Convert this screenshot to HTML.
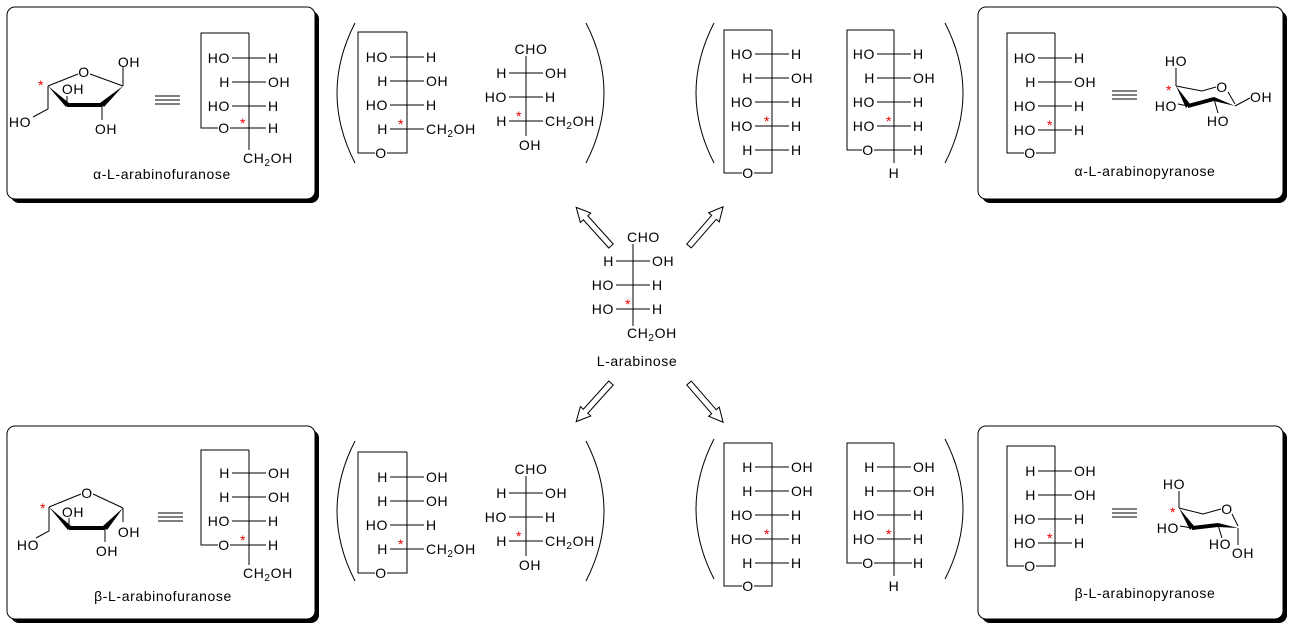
<!DOCTYPE html>
<html><head><meta charset="utf-8"><style>
html,body{margin:0;padding:0;background:#fff;}
svg{display:block;font-family:"Liberation Sans",sans-serif;font-size:14px;}
text{letter-spacing:0.6px;transform:translateY(1px);}
.l{text-anchor:end}.m{text-anchor:middle}
.s{fill:#e00;font-size:14px}
line,path.b{stroke:#000;stroke-width:1;fill:none}
</style></head><body>
<svg width="1292" height="627" viewBox="0 0 1292 627" xmlns="http://www.w3.org/2000/svg">
<!-- boxes -->
<rect x="11" y="11" width="308" height="192" rx="8" fill="#000"/>
<rect x="7" y="7" width="308" height="192" rx="8" fill="#fff" stroke="#000"/>
<rect x="982" y="11" width="305" height="192" rx="8" fill="#000"/>
<rect x="978" y="7" width="305" height="192" rx="8" fill="#fff" stroke="#000"/>
<rect x="11" y="430" width="308" height="193" rx="8" fill="#000"/>
<rect x="7" y="426" width="308" height="193" rx="8" fill="#fff" stroke="#000"/>
<rect x="982" y="430" width="305" height="193" rx="8" fill="#000"/>
<rect x="978" y="426" width="305" height="193" rx="8" fill="#fff" stroke="#000"/>

<!-- parens -->
<path class="b" d="M355,23 Q319,93 355,163 M586,23 Q622,93 586,163 M714,23 Q678,93 714,163 M945,23 Q981,93 945,163"/>
<path class="b" d="M355,441 Q319,511 355,581 M586,441 Q622,511 586,581 M714,439 Q678,509 714,579 M945,439 Q981,509 945,579"/>

<!-- equivalence signs -->
<path class="b" d="M155,96H180M155,100H180M155,104H180 M1112,91H1137M1112,95H1137M1112,99H1137 M158,513H183M158,517H183M158,521H183 M1112,509H1137M1112,513H1137M1112,517H1137"/>

<!-- alpha furanose -->
<line x1="48" y1="86" x2="78" y2="74"/><line x1="90" y1="74" x2="123" y2="86"/>
<polygon points="123,86 104,107 100,103"/><polygon points="67,103 102,103 102,107 67,107"/><polygon points="48,86 69,103 66,107"/>
<line x1="123" y1="86" x2="123" y2="67"/><line x1="102" y1="105" x2="102" y2="120"/><line x1="67" y1="105" x2="67" y2="96"/>
<path class="b" d="M48,86V109L33,117"/>
<text x="84" y="76" class="m">O</text><text x="129" y="66" class="m">OH</text><text x="106" y="133" class="m">OH</text><text x="73" y="93" class="m">OH</text><text x="20" y="126" class="m">HO</text><text x="41" y="89" class="s m">*</text>
<text x="162" y="178" class="m">α-L-arabinofuranose</text>

<!-- Fischer TL box -->
<g transform="translate(249,0)">
<path class="b" d="M0,33H-48V128H-31M-19,128H0M0,33V150"/>
<line x1="-17" y1="58" x2="17" y2="58"/><line x1="-17" y1="82" x2="17" y2="82"/><line x1="-17" y1="106" x2="17" y2="106"/><line x1="0" y1="128" x2="17" y2="128"/>
<text x="-19" y="62" class="l">HO</text><text x="19" y="62">H</text>
<text x="-19" y="86" class="l">H</text><text x="19" y="86">OH</text>
<text x="-19" y="110" class="l">HO</text><text x="19" y="110">H</text>
<text x="-25" y="132" class="m">O</text><text x="19" y="132">H</text><text x="-6" y="127" class="s m">*</text>
<text x="-6" y="162">CH<tspan font-size="10" dy="3">2</tspan><tspan dy="-3">OH</tspan></text>
</g>

<!-- top middle fischer 1 -->
<g transform="translate(407,0)">
<path class="b" d="M0,32H-49V153H-32M-20,153H0V32"/>
<line x1="-17" y1="57" x2="17" y2="57"/><line x1="-17" y1="81" x2="17" y2="81"/><line x1="-17" y1="105" x2="17" y2="105"/><line x1="-17" y1="129" x2="17" y2="129"/>
<text x="-19" y="61" class="l">HO</text><text x="19" y="61">H</text>
<text x="-19" y="85" class="l">H</text><text x="19" y="85">OH</text>
<text x="-19" y="109" class="l">HO</text><text x="19" y="109">H</text>
<text x="-19" y="133" class="l">H</text><text x="19" y="133">CH<tspan font-size="10" dy="3">2</tspan><tspan dy="-3">OH</tspan></text><text x="-6" y="128" class="s m">*</text>
<text x="-26" y="157" class="m">O</text>
</g>
<!-- open chain top -->
<g transform="translate(526,0)">
<line x1="0" y1="56" x2="0" y2="136"/>
<line x1="-17" y1="73" x2="17" y2="73"/><line x1="-17" y1="97" x2="17" y2="97"/><line x1="-17" y1="121" x2="17" y2="121"/>
<text x="5" y="53" class="m">CHO</text>
<text x="-19" y="77" class="l">H</text><text x="19" y="77">OH</text>
<text x="-19" y="101" class="l">HO</text><text x="19" y="101">H</text>
<text x="-19" y="125" class="l">H</text><text x="19" y="125">CH<tspan font-size="10" dy="3">2</tspan><tspan dy="-3">OH</tspan></text><text x="-7" y="120" class="s m">*</text>
<text x="4" y="149" class="m">OH</text>
</g>
<!-- open chain bottom -->
<g transform="translate(526,420)">
<line x1="0" y1="56" x2="0" y2="136"/>
<line x1="-17" y1="73" x2="17" y2="73"/><line x1="-17" y1="97" x2="17" y2="97"/><line x1="-17" y1="121" x2="17" y2="121"/>
<text x="5" y="53" class="m">CHO</text>
<text x="-19" y="77" class="l">H</text><text x="19" y="77">OH</text>
<text x="-19" y="101" class="l">HO</text><text x="19" y="101">H</text>
<text x="-19" y="125" class="l">H</text><text x="19" y="125">CH<tspan font-size="10" dy="3">2</tspan><tspan dy="-3">OH</tspan></text><text x="-7" y="120" class="s m">*</text>
<text x="4" y="149" class="m">OH</text>
</g>

<!-- top right A -->
<g transform="translate(772,0)">
<path class="b" d="M0,30H-48V173H-30M-18,173H0V30"/>
<line x1="-17" y1="54" x2="17" y2="54"/><line x1="-17" y1="78" x2="17" y2="78"/><line x1="-17" y1="102" x2="17" y2="102"/><line x1="-17" y1="126" x2="17" y2="126"/><line x1="-17" y1="150" x2="17" y2="150"/>
<text x="-19" y="58" class="l">HO</text><text x="19" y="58">H</text>
<text x="-19" y="82" class="l">H</text><text x="19" y="82">OH</text>
<text x="-19" y="106" class="l">HO</text><text x="19" y="106">H</text>
<text x="-19" y="130" class="l">HO</text><text x="19" y="130">H</text><text x="-5" y="125" class="s m">*</text>
<text x="-19" y="154" class="l">H</text><text x="19" y="154">H</text>
<text x="-24" y="177" class="m">O</text>
</g>
<!-- top right B -->
<g transform="translate(894,0)">
<path class="b" d="M0,30H-47V150H-32M-20,150H18M0,30V163"/>
<line x1="-17" y1="54" x2="17" y2="54"/><line x1="-17" y1="78" x2="17" y2="78"/><line x1="-17" y1="102" x2="17" y2="102"/><line x1="-17" y1="126" x2="17" y2="126"/>
<text x="-19" y="58" class="l">HO</text><text x="19" y="58">H</text>
<text x="-19" y="82" class="l">H</text><text x="19" y="82">OH</text>
<text x="-19" y="106" class="l">HO</text><text x="19" y="106">H</text>
<text x="-19" y="130" class="l">HO</text><text x="19" y="130">H</text><text x="-5" y="125" class="s m">*</text>
<text x="-26" y="154" class="m">O</text><text x="19" y="154">H</text>
<text x="0" y="177" class="m">H</text>
</g>

<!-- TR box fischer -->
<g transform="translate(1055,0)">
<path class="b" d="M0,33H-48V153H-31M-19,153H0V33"/>
<line x1="-17" y1="58" x2="17" y2="58"/><line x1="-17" y1="82" x2="17" y2="82"/><line x1="-17" y1="106" x2="17" y2="106"/><line x1="-17" y1="130" x2="17" y2="130"/>
<text x="-19" y="62" class="l">HO</text><text x="19" y="62">H</text>
<text x="-19" y="86" class="l">H</text><text x="19" y="86">OH</text>
<text x="-19" y="110" class="l">HO</text><text x="19" y="110">H</text>
<text x="-19" y="134" class="l">HO</text><text x="19" y="134">H</text><text x="-5" y="129" class="s m">*</text>
<text x="-25" y="157" class="m">O</text>
</g>
<!-- alpha pyranose -->
<path class="b" d="M1176,86L1202,91L1216,87M1228,92L1235,104M1235,106L1250,98M1188,106L1178,104M1176,86V68M1214,99L1218,113"/>
<polygon points="1235,106 1214,97 1214,101"/><polygon points="1188,104 1214,97 1214,101 1188,108"/><polygon points="1176,86 1190,104 1186,108"/>
<text x="1222" y="91" class="m">O</text><text x="1250" y="101">OH</text><text x="1177" y="110" class="l">HO</text><text x="1176" y="65" class="m">HO</text><text x="1218" y="125" class="m">HO</text><text x="1169" y="94" class="s m">*</text>
<text x="1145" y="175" class="m">α-L-arabinopyranose</text>

<!-- center -->
<g transform="translate(633,0)">
<line x1="0" y1="244" x2="0" y2="326"/>
<line x1="-17" y1="261" x2="17" y2="261"/><line x1="-17" y1="285" x2="17" y2="285"/><line x1="-17" y1="309" x2="17" y2="309"/>
<text x="-6" y="241">CHO</text>
<text x="-19" y="265" class="l">H</text><text x="19" y="265">OH</text>
<text x="-19" y="289" class="l">HO</text><text x="19" y="289">H</text>
<text x="-19" y="313" class="l">HO</text><text x="19" y="313">H</text><text x="-5" y="308" class="s m">*</text>
<text x="-6" y="337">CH<tspan font-size="10" dy="3">2</tspan><tspan dy="-3">OH</tspan></text>
</g>
<text x="637" y="365" class="m">L-arabinose</text>
<g fill="#fff" stroke="#000" stroke-width="1">
<polygon transform="translate(611,246) rotate(228)" points="0,-3 38,-3 38,-7 52,0 38,7 38,3 0,3"/>
<polygon transform="translate(689,246) rotate(-49)" points="0,-3 38,-3 38,-7 52,0 38,7 38,3 0,3"/>
<polygon transform="translate(611,383) rotate(132)" points="0,-3 38,-3 38,-7 52,0 38,7 38,3 0,3"/>
<polygon transform="translate(689,383) rotate(49)" points="0,-3 38,-3 38,-7 52,0 38,7 38,3 0,3"/>
</g>

<!-- beta furanose -->
<line x1="49" y1="507" x2="81" y2="494"/><line x1="93" y1="494" x2="123" y2="508"/>
<polygon points="123,508 107,530 103,526"/><polygon points="69,526 105,526 105,530 69,530"/><polygon points="49,507 71,526 68,530"/>
<line x1="123" y1="508" x2="123" y2="522"/><line x1="105" y1="528" x2="105" y2="542"/><line x1="69" y1="528" x2="69" y2="518"/>
<path class="b" d="M49,507V531L36,538"/>
<text x="87" y="497" class="m">O</text><text x="129" y="536" class="m">OH</text><text x="107" y="555" class="m">OH</text><text x="73" y="516" class="m">OH</text><text x="28" y="549" class="m">HO</text><text x="43" y="512" class="s m">*</text>
<text x="163" y="600" class="m">β-L-arabinofuranose</text>

<!-- BL box fischer -->
<g transform="translate(249,415)">
<path class="b" d="M0,35H-48V130H-31M-19,130H0M0,35V150"/>
<line x1="-17" y1="58" x2="17" y2="58"/><line x1="-17" y1="82" x2="17" y2="82"/><line x1="-17" y1="106" x2="17" y2="106"/><line x1="0" y1="130" x2="17" y2="130"/>
<text x="-19" y="62" class="l">H</text><text x="19" y="62">OH</text>
<text x="-19" y="86" class="l">H</text><text x="19" y="86">OH</text>
<text x="-19" y="110" class="l">HO</text><text x="19" y="110">H</text>
<text x="-25" y="134" class="m">O</text><text x="19" y="134">H</text><text x="-6" y="129" class="s m">*</text>
<text x="-6" y="162">CH<tspan font-size="10" dy="3">2</tspan><tspan dy="-3">OH</tspan></text>
</g>

<!-- bottom middle fischer 1 -->
<g transform="translate(407,420)">
<path class="b" d="M0,32H-49V153H-32M-20,153H0V32"/>
<line x1="-17" y1="57" x2="17" y2="57"/><line x1="-17" y1="81" x2="17" y2="81"/><line x1="-17" y1="105" x2="17" y2="105"/><line x1="-17" y1="129" x2="17" y2="129"/>
<text x="-19" y="61" class="l">H</text><text x="19" y="61">OH</text>
<text x="-19" y="85" class="l">H</text><text x="19" y="85">OH</text>
<text x="-19" y="109" class="l">HO</text><text x="19" y="109">H</text>
<text x="-19" y="133" class="l">H</text><text x="19" y="133">CH<tspan font-size="10" dy="3">2</tspan><tspan dy="-3">OH</tspan></text><text x="-6" y="128" class="s m">*</text>
<text x="-26" y="157" class="m">O</text>
</g>

<!-- bottom right A -->
<g transform="translate(772,413)">
<path class="b" d="M0,30H-48V173H-30M-18,173H0V30"/>
<line x1="-17" y1="54" x2="17" y2="54"/><line x1="-17" y1="78" x2="17" y2="78"/><line x1="-17" y1="102" x2="17" y2="102"/><line x1="-17" y1="126" x2="17" y2="126"/><line x1="-17" y1="150" x2="17" y2="150"/>
<text x="-19" y="58" class="l">H</text><text x="19" y="58">OH</text>
<text x="-19" y="82" class="l">H</text><text x="19" y="82">OH</text>
<text x="-19" y="106" class="l">HO</text><text x="19" y="106">H</text>
<text x="-19" y="130" class="l">HO</text><text x="19" y="130">H</text><text x="-5" y="125" class="s m">*</text>
<text x="-19" y="154" class="l">H</text><text x="19" y="154">H</text>
<text x="-24" y="177" class="m">O</text>
</g>
<!-- bottom right B -->
<g transform="translate(894,413)">
<path class="b" d="M0,30H-47V150H-32M-20,150H18M0,30V163"/>
<line x1="-17" y1="54" x2="17" y2="54"/><line x1="-17" y1="78" x2="17" y2="78"/><line x1="-17" y1="102" x2="17" y2="102"/><line x1="-17" y1="126" x2="17" y2="126"/>
<text x="-19" y="58" class="l">H</text><text x="19" y="58">OH</text>
<text x="-19" y="82" class="l">H</text><text x="19" y="82">OH</text>
<text x="-19" y="106" class="l">HO</text><text x="19" y="106">H</text>
<text x="-19" y="130" class="l">HO</text><text x="19" y="130">H</text><text x="-5" y="125" class="s m">*</text>
<text x="-26" y="154" class="m">O</text><text x="19" y="154">H</text>
<text x="0" y="177" class="m">H</text>
</g>

<!-- BR box fischer -->
<g transform="translate(1055,413)">
<path class="b" d="M0,33H-48V153H-31M-19,153H0V33"/>
<line x1="-17" y1="58" x2="17" y2="58"/><line x1="-17" y1="82" x2="17" y2="82"/><line x1="-17" y1="106" x2="17" y2="106"/><line x1="-17" y1="130" x2="17" y2="130"/>
<text x="-19" y="62" class="l">H</text><text x="19" y="62">OH</text>
<text x="-19" y="86" class="l">H</text><text x="19" y="86">OH</text>
<text x="-19" y="110" class="l">HO</text><text x="19" y="110">H</text>
<text x="-19" y="134" class="l">HO</text><text x="19" y="134">H</text><text x="-5" y="129" class="s m">*</text>
<text x="-25" y="157" class="m">O</text>
</g>
<!-- beta pyranose -->
<path class="b" d="M1179,508L1203,514L1221,509M1232,514L1238,526M1238,528V545M1192,528L1180,526M1179,508V491M1218,525L1222,538"/>
<polygon points="1238,528 1218,523 1218,527"/><polygon points="1192,526 1218,523 1218,527 1192,530"/><polygon points="1179,508 1194,526 1190,530"/>
<text x="1227" y="513" class="m">O</text><text x="1243" y="557" class="m">OH</text><text x="1179" y="532" class="l">HO</text><text x="1174" y="488" class="m">HO</text><text x="1220" y="548" class="m">HO</text><text x="1173" y="516" class="s m">*</text>
<text x="1145" y="597" class="m">β-L-arabinopyranose</text>
</svg>
</body></html>
